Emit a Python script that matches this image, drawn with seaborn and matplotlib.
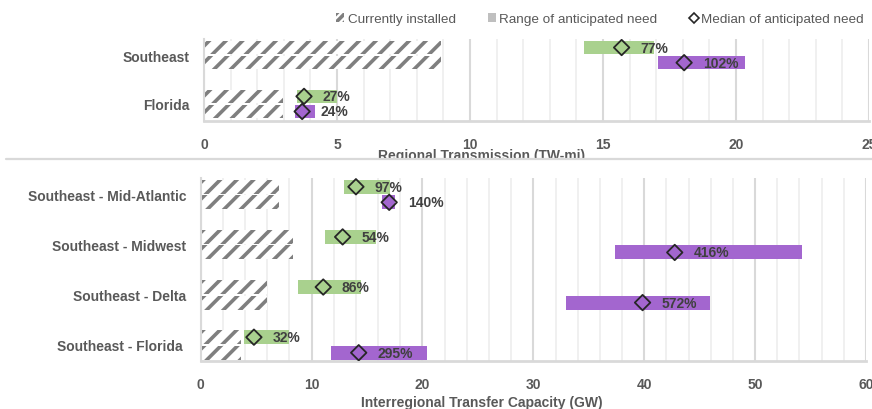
import matplotlib
matplotlib.use("Agg")
import matplotlib.pyplot as plt
import pandas as pd
import seaborn as sns
from matplotlib.patches import Patch, Rectangle
from matplotlib.lines import Line2D
from matplotlib.ticker import MultipleLocator

sns.set_theme(style="white")
plt.rcParams["font.family"] = ["Liberation Sans", "DejaVu Sans"]
plt.rcParams["hatch.linewidth"] = 2.6

# Regional transmission (TW-mi)
regional_regions = ["Southeast", "Florida"]
regional_installed = [8.9, 2.96]
regional_mid_low = [14.3, 3.5]
regional_mid_high = [16.9, 5.0]
regional_mid_median = [15.7, 3.76]
regional_mid_labels = ["77%", "27%"]
regional_high_low = [17.05, 3.42]
regional_high_high = [20.35, 4.17]
regional_high_median = [18.05, 3.69]
regional_high_labels = ["102%", "24%"]

# Interregional transfer capacity (GW)
inter_regions = ["Southeast - Mid-Atlantic", "Southeast - Midwest",
                 "Southeast - Delta", "Southeast - Florida "]
inter_installed = [7.1, 8.3, 5.95, 3.6]
inter_mid_low = [12.9, 11.25, 8.75, 3.95]
inter_mid_high = [17.05, 15.8, 14.45, 8.0]
inter_mid_median = [14.0, 12.8, 11.05, 4.8]
inter_mid_labels = ["97%", "54%", "86%", "32%"]
inter_high_low = [16.35, 37.35, 32.95, 11.75]
inter_high_high = [17.5, 54.2, 45.9, 20.4]
inter_high_median = [17.0, 42.75, 39.85, 14.25]
inter_high_labels = ["140%", "416%", "572%", "295%"]

legend_labels = ["Currently installed", "Range of anticipated need", "Median of anticipated need"]

GREEN = "#a9d18e"
PURPLE = "#a366cf"
HATCH = "#7f7f7f"
TICK = "#595959"
LABEL = "#404040"
MAJOR_GRID = "#d9d9d9"
MINOR_GRID = "#eeeeee"
FS = 10

W, H = 872, 410
fig = plt.figure(figsize=(W / 100, H / 100), dpi=100)


def px_axes(left, top, right, bottom, zorder):
    return fig.add_axes([left / W, 1 - bottom / H, (right - left) / W, (bottom - top) / H], zorder=zorder)


OFF = 0.155
BAR_H = 0.279


def draw_panel(ax, regions, installed, mid, high, xmax, major, minor, ylim):
    n = len(regions)
    df = pd.DataFrame({
        "region": regions * 2,
        "case": ["mid"] * n + ["high"] * n,
        "value": installed * 2,
    })
    sns.barplot(data=df, x="value", y="region", hue="case", orient="h",
                dodge=True, width=0.62, gap=0.1, palette=["white", "white"],
                edgecolor=HATCH, linewidth=0, errorbar=None, saturation=1,
                legend=False, ax=ax)
    for p in ax.patches:
        p.set_hatch("//")
        p.set_edgecolor(HATCH)
        p.set_linewidth(0)

    for (lows, highs, meds, labels, color, dy) in (
        mid + (GREEN, -OFF),
        high + (PURPLE, OFF),
    ):
        for i in range(n):
            y = i + dy
            ax.barh(y, highs[i] - lows[i], left=lows[i], height=BAR_H,
                    color=color, linewidth=0, zorder=2)
            ax.annotate(labels[i], (meds[i], y), xytext=(13.5, 0),
                        textcoords="offset points", ha="left", va="center",
                        fontsize=FS, fontweight="bold", color=LABEL, zorder=5)
        ax.scatter(meds, [i + dy for i in range(n)], marker="D", s=62,
                   facecolors="none", edgecolors="#262626", linewidths=1.3, zorder=4)

    ax.set_xlim(0, xmax)
    ax.set_ylim(*ylim)
    ax.set_xticks(range(0, xmax + 1, major))
    ax.xaxis.set_minor_locator(MultipleLocator(minor))
    ax.set_axisbelow(True)
    ax.grid(which="major", axis="x", color=MAJOR_GRID, linewidth=1.5)
    ax.grid(which="minor", axis="x", color=MINOR_GRID, linewidth=1.2)
    ax.grid(which="both", axis="y", visible=False)
    for side in ("top", "right"):
        ax.spines[side].set_visible(False)
    ax.spines["left"].set_color(MAJOR_GRID)
    ax.spines["left"].set_linewidth(1.5)
    ax.spines["bottom"].set_color(MAJOR_GRID)
    ax.spines["bottom"].set_linewidth(2)
    ax.set_xlabel("")
    ax.set_ylabel("")
    ax.tick_params(axis="both", which="both", length=0, labelsize=FS, labelcolor=TICK)
    ax.tick_params(axis="x", pad=11.5)
    ax.tick_params(axis="y", pad=10.5)
    plt.setp(ax.get_xticklabels(), fontweight="bold")
    plt.setp(ax.get_yticklabels(), fontweight="bold")


ax_top = px_axes(204, 40, 869, 122, zorder=0)
draw_panel(ax_top, regional_regions, regional_installed,
           (regional_mid_low, regional_mid_high, regional_mid_median, regional_mid_labels),
           (regional_high_low, regional_high_high, regional_high_median, regional_high_labels),
           25, 5, 1, (1.35, -0.33))

ax_bot = px_axes(200.7, 179, 866, 362, zorder=2)
draw_panel(ax_bot, inter_regions, inter_installed,
           (inter_mid_low, inter_mid_high, inter_mid_median, inter_mid_labels),
           (inter_high_low, inter_high_high, inter_high_median, inter_high_labels),
           60, 10, 2, (3.32, -0.33))

# Axis titles
fig.text(482 / W, 1 - 149 / H, "Regional Transmission (TW-mi)", ha="center", va="top",
         fontsize=FS, fontweight="bold", color=TICK, zorder=0.5)
fig.text(482 / W, 3 / H, "Interregional Transfer Capacity (GW)", ha="center", va="baseline",
         fontsize=FS, fontweight="bold", color=TICK, zorder=5)

# Lower panel sits on its own white card with a divider above it
fig.add_artist(Rectangle((0, 0), 1, 1 - 160 / H, transform=fig.transFigure,
                         facecolor="white", edgecolor="none", zorder=1))
fig.add_artist(Line2D([6 / W, 1], [1 - 160 / H, 1 - 160 / H], transform=fig.transFigure,
                      color=MAJOR_GRID, linewidth=1.6, zorder=3))

handles = [
    Patch(facecolor="white", edgecolor=HATCH, hatch="////", linewidth=0),
    Patch(facecolor="#bfbfbf", edgecolor="none"),
    Line2D([], [], linestyle="none", marker="D", markersize=5, markerfacecolor="white",
           markeredgecolor="#262626", markeredgewidth=1.2),
]
fig.legend(handles, legend_labels, loc="center right", bbox_to_anchor=(1.0, 1 - 20 / H),
           ncol=3, frameon=False, fontsize=9.7, labelcolor=TICK, handlelength=0.6,
           handleheight=0.6, handletextpad=0.25, columnspacing=2.4, borderaxespad=0.2)

fig.savefig("out.png", dpi=100)
